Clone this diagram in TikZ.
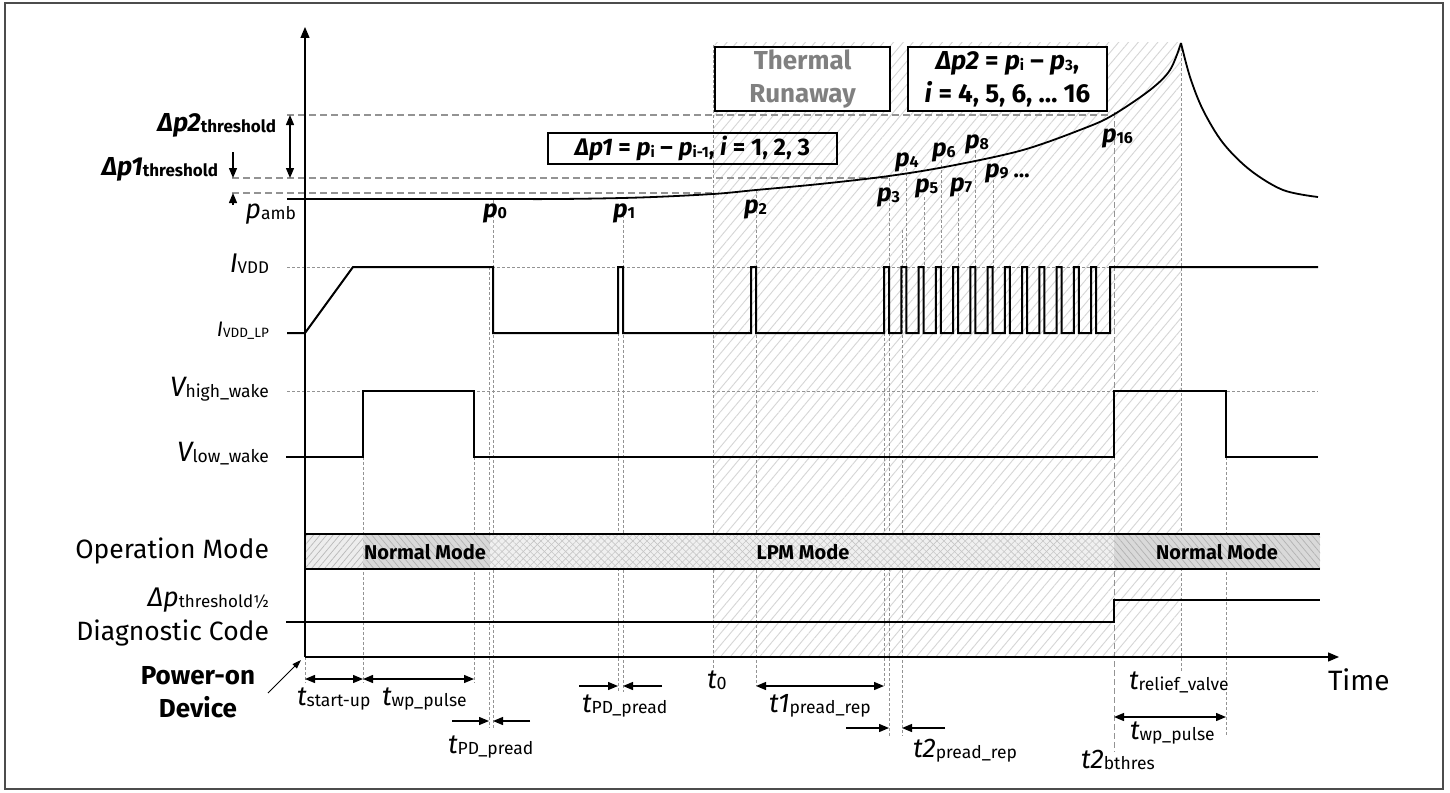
\documentclass[tikz,border=0pt]{standalone}
\usepackage{fontspec}
\setmainfont{Fira Sans}
\usetikzlibrary{arrows.meta,patterns.meta}
\newcommand\fs[1]{\fontsize{#1}{#1}\selectfont}
\newcommand\tlab[3][17.5]{{\fs{27}\itshape #2}{\fs{#1}\raisebox{-1.5pt}{#3}}}
\newcommand\plab[1]{{\fs{25}\bfseries\itshape p}{\fs{16}\bfseries\raisebox{-1.5pt}{#1}}}
\newcommand\bsub[1]{{\fs{15}\raisebox{-1.5pt}{#1}}}
\tikzset{
 sig/.style={line width=2pt,line join=miter},
 axisarrow/.style={line width=1.3pt,-{Triangle[length=11pt,width=9pt]}},
 guide/.style={gray!85,line width=0.8pt,dash pattern=on 3pt off 2pt},
 longguide/.style={gray!85,line width=0.9pt,dash pattern=on 6pt off 3pt},
 thr/.style={gray!85,line width=1.1pt,dash pattern=on 7pt off 4pt},
 dimboth/.style={line width=1.3pt,{Triangle[length=10pt,width=8pt]}-{Triangle[length=10pt,width=8pt]}},
 dimone/.style={line width=1.3pt,-{Triangle[length=10pt,width=8pt]}},
 txt/.style={inner sep=0pt,outer sep=0pt},
 modetxt/.style={inner sep=0pt,font=\fs{20}\bfseries},
 eqbox/.style={draw,line width=1.3pt,inner sep=0pt},
}
\begin{document}
\begin{tikzpicture}[x=1pt,y=-1pt]
\useasboundingbox (0,0) rectangle (1450,792);
\fill[white] (0,0) rectangle (1450,792);
\draw[gray!60!black,line width=1.2pt] (5,3) rectangle (1443,789);
% thermal runaway hatch
\fill[pattern={Lines[angle=50,distance=7.5pt,line width=0.9pt]},pattern color=gray!32] (713,43) rectangle (1181,657);

% threshold lines
\draw[thr] (287,115) -- (1113,115);
\draw[thr] (232,178) -- (889,178);
\draw[thr] (232,193) -- (713,193);
% level guides
\draw[guide] (287,267) -- (1110,267);
\draw[guide] (287,391) -- (1318,391);
% vertical guides
\draw[guide] (305,657) -- (305,683);
\draw[guide] (363,457) -- (363,683);
\draw[guide] (474,457) -- (474,683);
\draw[guide] (489,267) -- (489,728);
\draw[guide] (493,200) -- (493,728);
\draw[guide] (618,333) -- (618,692);
\draw[guide] (623,205) -- (623,692);
\draw[guide] (713,45) -- (713,668);
\draw[guide] (756,190) -- (756,686);
\draw[guide] (884,333) -- (884,686);
\draw[guide] (889,178) -- (889,736);
\draw[guide] (902,230) -- (902,736);
\draw[guide] (906,168) -- (906,267);
\draw[guide] (924,197) -- (924,267);
\draw[guide] (941,160) -- (941,267);
\draw[guide] (958,193) -- (958,267);
\draw[guide] (975,150) -- (975,267);
\draw[guide] (993,180) -- (993,267);
\draw[longguide] (1114,112) -- (1114,752);
\draw[guide] (1181,43) -- (1181,672);
\draw[guide] (1226,457) -- (1226,735);

% operation mode band
\fill[gray!14] (305,534) rectangle (363,569);
\fill[pattern={Lines[angle=50,distance=5pt,line width=0.7pt]},pattern color=gray!55] (305,534) rectangle (363,569);
\fill[gray!30] (363,534) rectangle (490,569);
\fill[pattern={Lines[angle=-50,distance=5pt,line width=0.7pt]},pattern color=gray!60] (363,534) rectangle (490,569);
\fill[gray!12] (490,534) rectangle (1114,569);
\fill[pattern={Lines[angle=45,distance=5pt,line width=0.6pt]},pattern color=gray!45] (490,534) rectangle (1114,569);
\fill[pattern={Lines[angle=-45,distance=5pt,line width=0.6pt]},pattern color=gray!45] (490,534) rectangle (1114,569);
\fill[gray!30] (1114,534) rectangle (1320,569);
\fill[pattern={Lines[angle=-50,distance=5pt,line width=0.7pt]},pattern color=gray!60] (1114,534) rectangle (1320,569);
\draw[line width=1.2pt] (305,534) -- (1320,534) (305,569) -- (1320,569);
\node[modetxt] (nm1) at (425,552) {Normal Mode};
\node[modetxt] (lpm) at (803,552) {LPM Mode};
\node[modetxt] (nm2) at (1217,552) {Normal Mode};

% axes
\coordinate (O) at (305,657);
\coordinate (ytop) at (305,27);
\coordinate (xend) at (1339,657);
\draw[axisarrow] (O) -- (ytop);
\draw[axisarrow] (O) -- (xend);

% pressure curve
\draw[sig,line width=1.8pt] plot[smooth,tension=0.55] coordinates {(287,199) (480,199) (560,199) (640,197.5) (713,194) (756,190) (820,184) (889,176) (950,166) (1023,150) (1085,128) (1113,115) (1150,90) (1170,70) (1181,43)};
\draw[sig,line width=1.8pt] plot[smooth,tension=0.55] coordinates {(1181,43) (1190,77) (1203,110) (1223,143) (1250,170) (1283,190) (1318,197)};

% I_VDD
\draw[sig] (287,333) -- (305,333) -- (353,267) -- (493,267) -- (493,333) -- (618,333) -- (618,267) -- (623,267) -- (623,333) -- (751,333) -- (751,267) -- (756,267) -- (756,333) -- (884,333)
  \foreach \k in {0,...,12} { -- ({884+17.25*\k},333) -- ({884+17.25*\k},267) -- ({889+17.25*\k},267) -- ({889+17.25*\k},333) }
  -- (1110,333) -- (1110,267) -- (1318,267);
% V wake
\draw[sig] (286,457) -- (363,457) -- (363,391) -- (474,391) -- (474,457) -- (1114,457) -- (1114,391) -- (1226,391) -- (1226,457) -- (1318,457);
% diagnostic code
\draw[sig] (286,622) -- (1114,622) -- (1114,600) -- (1320,600);

% boxes
\node[eqbox,fill=white,minimum width=175pt,minimum height=64pt,align=center,text=gray,font=\fontsize{26}{33}\selectfont\bfseries] (thermal) at (802.5,79) {Thermal\\Runaway};
\node[eqbox,fill=white,minimum width=199pt,minimum height=64pt,align=center,font=\fontsize{26}{33}\selectfont\bfseries] (dp2box) at (1007.5,79) {\textit{Δp2} = \textit{p}\bsub{i} – \textit{p}\bsub{3},\\\textit{i} = 4, 5, 6, … 16};
\node[eqbox,minimum width=289pt,minimum height=31pt,font=\fs{24}\bfseries] (dp1box) at (692.5,148.5) {\textit{Δp1} = \textit{p}\bsub{i} – \textit{p}\bsub{i-1}, \textit{i} = 1, 2, 3};

% p labels
\node[txt,anchor=base west] (p0) at (483,217) {\plab{0}};
\node[txt,anchor=base west] (p1) at (613,217) {\plab{1}};
\node[txt,anchor=base west] (p2) at (744,213) {\plab{2}};
\node[txt,anchor=base west] (p3) at (877,201) {\plab{3}};
\node[txt,anchor=base west] (p4) at (895,166) {\plab{4}};
\node[txt,anchor=base west] (p5) at (915,192) {\plab{5}};
\node[txt,anchor=base west] (p6) at (932,156) {\plab{6}};
\node[txt,anchor=base west] (p7) at (950,191) {\plab{7}};
\node[txt,anchor=base west] (p8) at (965,148) {\plab{8}};
\node[txt,anchor=base west] (p9) at (985,177) {\plab{9}\hspace{5pt}{\fs{22}\bfseries …}};
\node[txt,anchor=base west] (p16) at (1102,142) {\plab{16}};

% threshold dimension arrows
\coordinate (d2a) at (290,115); \coordinate (d2b) at (290,178);
\draw[dimboth] (d2a) -- (d2b);
\coordinate (d1a) at (233,152); \coordinate (d1b) at (233,178);
\draw[dimone] (d1a) -- (d1b);
\coordinate (d1c) at (233,205); \coordinate (d1d) at (233,193);
\draw[dimone] (d1c) -- (d1d);

% left labels
\node[txt,anchor=base east] (dp2lab) at (276,131) {{\fs{26}\bfseries\itshape Δp2}{\fs{17}\bfseries\raisebox{-1.5pt}{threshold}}};
\node[txt,anchor=base east] (dp1lab) at (218,175) {{\fs{26}\bfseries\itshape Δp1}{\fs{17}\bfseries\raisebox{-1.5pt}{threshold}}};
\node[txt,anchor=base east] (pamb) at (296,218) {\tlab{p}{amb}};
\node[txt,anchor=base east] (ivdd) at (269,272) {{\fs{27}\itshape I}{\fs{17}\raisebox{-1.5pt}{VDD}}};
\node[txt,anchor=base east] (ivddlp) at (269,336) {{\fs{21}\itshape I}{\fs{13.5}\raisebox{-1pt}{VDD\_LP}}};
\node[txt,anchor=base east] (vhigh) at (269,396) {{\fs{28}\itshape V}{\fs{17.5}\raisebox{-1.5pt}{high\_wake}}};
\node[txt,anchor=base east] (vlow) at (269,461) {{\fs{28}\itshape V}{\fs{17.5}\raisebox{-1.5pt}{low\_wake}}};
\node[txt,anchor=base east,font=\fs{26.5}] (opmode) at (269,558) {Operation Mode};
\node[txt,anchor=base east] (dpthr) at (269,606) {{\fs{27}\itshape Δp}{\fs{17}\raisebox{-1.5pt}{threshold½}}};
\node[txt,anchor=base east,font=\fs{26.5}] (diag) at (269,640) {Diagnostic Code};
\node[txt,anchor=base,font=\fs{26}\bfseries] (pwr) at (198,684) {Power-on};
\node[txt,anchor=base,font=\fs{26}\bfseries] (dev) at (198,717) {Device};
\coordinate (pwrarrow) at (268,693);
\draw[line width=1pt,-{Triangle[length=9pt,width=6pt]}] (pwrarrow) -- (301,660);

% timing dimension arrows
\coordinate (su1) at (305,679); \coordinate (su2) at (363,679); \coordinate (wp2) at (474,679);
\draw[dimboth] (su1) -- (su2);
\draw[dimboth] (su2) -- (wp2);
\draw[dimone] (452,721) -- (489,721);
\draw[dimone] (530,721) -- (493,721);
\draw[dimone] (579,686) -- (618,686);
\draw[dimone] (662,686) -- (623,686);
\coordinate (r1a) at (756,686); \coordinate (r1b) at (884,686);
\draw[dimboth] (r1a) -- (r1b);
\draw[dimone] (846,728) -- (889,728);
\draw[dimone] (945,728) -- (902,728);
\coordinate (wpa) at (1114,717); \coordinate (wpb) at (1226,717);
\draw[dimboth] (wpa) -- (wpb);

% bottom labels
\node[txt,anchor=base west] (tsu) at (297,705) {\tlab{t}{start-up}};
\node[txt,anchor=base west] (twp1) at (382,705) {\tlab{t}{wp\_pulse}};
\node[txt,anchor=base west] (tpd1) at (448,753) {\tlab{t}{PD\_pread}};
\node[txt,anchor=base west] (tpd2) at (582,712) {\tlab{t}{PD\_pread}};
\node[txt,anchor=base west] (t0) at (707,688) {\tlab[18]{t}{0}};
\node[txt,anchor=base west] (t1) at (769,712) {\tlab{t1}{pread\_rep}};
\node[txt,anchor=base west] (t2) at (913,757) {\tlab{t2}{pread\_rep}};
\node[txt,anchor=base west] (trv) at (1129,689) {\tlab{t}{relief\_valve}};
\node[txt,anchor=base west] (twp2) at (1130,739) {\tlab{t}{wp\_pulse}};
\node[txt,anchor=base west] (t2b) at (1081,768) {\tlab{t2}{bthres}};
\node[txt,anchor=base west,font=\fs{28}] (time) at (1328,690) {Time};
\end{tikzpicture}
\end{document}
